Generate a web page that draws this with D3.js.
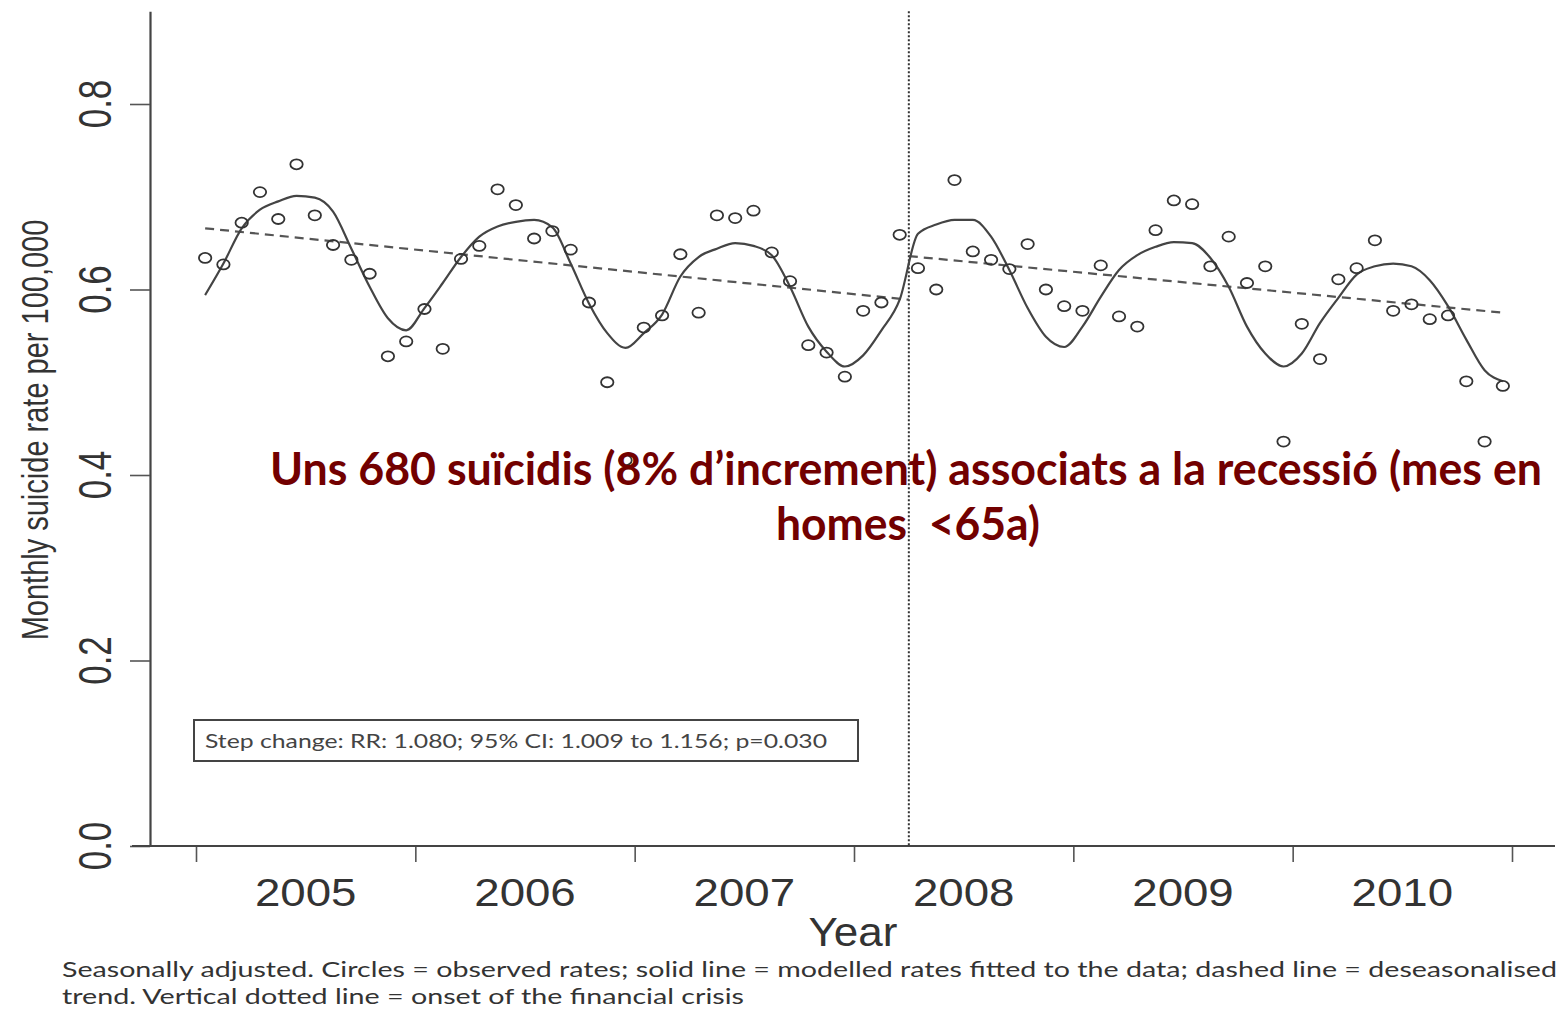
<!DOCTYPE html>
<html lang="en">
<head>
	<meta charset="utf-8">
	<title>Monthly suicide rate</title>
	<script src="https://d3js.org/d3.v7.min.js" charset="utf-8"></script>
	<style>
	body { margin: 0; background: #fff; }
	text { font-family: "Liberation Sans", Arial, sans-serif; }
	text.cal { font-family: Lato, "Open Sans", sans-serif; }
	</style>
</head>
<body>
	<script>
	// year tick labels (placed in the middle of each year)
	var yearLabels = ["2005", "2006", "2007", "2008", "2009", "2010"];
	var yTicks = [0.0, 0.2, 0.4, 0.6, 0.8];

	// observed monthly rates, Jan 2005 - Dec 2010
	var observed = [
		0.634, 0.627, 0.672, 0.705, 0.676, 0.735, 0.680, 0.648, 0.632, 0.617, 0.528, 0.544,
		0.579, 0.536, 0.633, 0.647, 0.708, 0.691, 0.655, 0.663, 0.643, 0.586, 0.500, 0.416,
		0.559, 0.572, 0.638, 0.575, 0.680, 0.677, 0.685, 0.640, 0.609, 0.540, 0.532, 0.506,
		0.577, 0.586, 0.659, 0.623, 0.600, 0.718, 0.641, 0.632, 0.622, 0.649, 0.600, 0.582,
		0.577, 0.626, 0.571, 0.560, 0.664, 0.696, 0.692, 0.625, 0.657, 0.607, 0.625, 0.436,
		0.563, 0.525, 0.611, 0.623, 0.653, 0.577, 0.584, 0.568, 0.572, 0.501, 0.436, 0.496
	];

	// modelled (fitted) rates
	var fitted = [
		0.594, 0.628, 0.666, 0.686, 0.695, 0.701, 0.699, 0.684, 0.644, 0.603, 0.569, 0.556,
		0.580, 0.607, 0.635, 0.657, 0.668, 0.673, 0.675, 0.667, 0.628, 0.585, 0.553, 0.537,
		0.553, 0.573, 0.614, 0.635, 0.644, 0.650, 0.647, 0.637, 0.603, 0.560, 0.533, 0.517,
		0.529, 0.556, 0.589, 0.660, 0.670, 0.675, 0.675, 0.657, 0.621, 0.580, 0.549, 0.538,
		0.560, 0.592, 0.621, 0.637, 0.646, 0.651, 0.650, 0.634, 0.603, 0.560, 0.531, 0.517,
		0.531, 0.564, 0.591, 0.616, 0.625, 0.628, 0.625, 0.610, 0.582, 0.546, 0.513, 0.501
	];

	// deseasonalised trend, [month index, rate] at the ends of each segment
	var trendBefore = [[0, 0.666], [38.5, 0.589]];
	var trendAfter = [[38.5, 0.636], [71, 0.575]];

	// onset of the financial crisis (month index)
	var crisisMonth = 38.5;

	var boxText = "Step change: RR: 1.080; 95% CI: 1.009 to 1.156; p=0.030";
	var noteLines = ["Uns 680 suïcidis (8% d\u2019increment) associats a la recessió (mes en", "homes  <65a)"];
	var footLines = [
		"Seasonally adjusted. Circles = observed rates; solid line = modelled rates fitted to the data; dashed line = deseasonalised",
		"trend. Vertical dotted line = onset of the financial crisis"
	];

	var w = 1567;
	var h = 1009;

	// month index -> fractional year (centre of the month)
	function monthToYear(m) { return 2005 + (m + 0.5) / 12; }

	var x = d3.scaleLinear().domain([2005, 2011]).range([196, 1512]);
	var y = d3.scaleLinear().domain([0, 0.9]).range([846, 11.25]);

	var svg = d3.select("body")
		.append("svg")
		.attr("width", w)
		.attr("height", h);

	svg.append("rect").attr("width", w).attr("height", h).attr("fill", "#fff");

	// y axis
	var yAxis = svg.append("g")
		.attr("transform", "translate(150,0)")
		.call(d3.axisLeft(y).tickValues(yTicks).tickSize(20).tickSizeOuter(0).tickFormat(""));
	yAxis.select(".domain").attr("stroke", "#444").attr("stroke-width", 2.2);
	yAxis.selectAll(".tick line").attr("stroke", "#555").attr("stroke-width", 1.6);

	yAxis.selectAll(".ylab")
		.data(yTicks)
		.enter()
		.append("text")
		.attr("class", "ylab")
		.attr("transform", function(d) { return "translate(-39," + y(d) + ") scale(1.3,1) rotate(-90)"; })
		.attr("text-anchor", "middle")
		.attr("font-size", 35)
		.attr("fill", "#333")
		.text(function(d) { return d.toFixed(1); });

	// x axis
	var xAxis = svg.append("g")
		.attr("transform", "translate(0,846)")
		.call(d3.axisBottom(x).ticks(6).tickSize(16).tickSizeOuter(0).tickFormat(""));
	xAxis.select(".domain").remove();
	xAxis.selectAll(".tick line").attr("stroke", "#555").attr("stroke-width", 1.6);
	xAxis.append("line")
		.attr("x1", 132)
		.attr("x2", 1555)
		.attr("stroke", "#444")
		.attr("stroke-width", 2.2);

	xAxis.selectAll(".xlab")
		.data(yearLabels)
		.enter()
		.append("text")
		.attr("class", "xlab")
		.attr("transform", function(d) { return "translate(" + x(+d + 0.5) + ",60) scale(1.17,1)"; })
		.attr("text-anchor", "middle")
		.attr("font-size", 39)
		.attr("fill", "#333")
		.text(function(d) { return d; });

	svg.append("text")
		.attr("transform", "translate(853,946) scale(1.1,1)")
		.attr("text-anchor", "middle")
		.attr("font-size", 40)
		.attr("fill", "#333")
		.text("Year");

	svg.append("text")
		.attr("transform", "translate(48,430) scale(1.3,1) rotate(-90)")
		.attr("text-anchor", "middle")
		.attr("font-size", 29)
		.attr("fill", "#333")
		.text("Monthly suicide rate per 100,000");

	// crisis line
	svg.append("line")
		.attr("x1", x(monthToYear(crisisMonth)))
		.attr("x2", x(monthToYear(crisisMonth)))
		.attr("y1", y(0.9))
		.attr("y2", y(0))
		.attr("stroke", "#333")
		.attr("stroke-width", 2)
		.attr("stroke-dasharray", "2,2");

	// dashed trend
	var trendLine = d3.line()
		.x(function(d) { return x(monthToYear(d[0])); })
		.y(function(d) { return y(d[1]); });

	[trendBefore, trendAfter].forEach(function(seg) {
		svg.append("path")
			.attr("d", trendLine(seg))
			.attr("fill", "none")
			.attr("stroke", "#555")
			.attr("stroke-width", 2.2)
			.attr("stroke-dasharray", "9,6");
	});

	// fitted curve
	var fitLine = d3.line()
		.x(function(d, i) { return x(monthToYear(i)); })
		.y(function(d) { return y(d); })
		.curve(d3.curveMonotoneX);

	svg.append("path")
		.attr("d", fitLine(fitted))
		.attr("fill", "none")
		.attr("stroke", "#444")
		.attr("stroke-width", 2.2);

	// observed circles
	svg.selectAll(".obs")
		.data(observed)
		.enter()
		.append("ellipse")
		.attr("class", "obs")
		.attr("cx", function(d, i) { return x(monthToYear(i)); })
		.attr("cy", function(d) { return y(d); })
		.attr("rx", 6.2)
		.attr("ry", 5)
		.attr("fill", "none")
		.attr("stroke", "#333")
		.attr("stroke-width", 1.8);

	// step change box
	svg.append("rect")
		.attr("x", 194)
		.attr("y", 720)
		.attr("width", 664)
		.attr("height", 41)
		.attr("fill", "#fff")
		.attr("stroke", "#444")
		.attr("stroke-width", 2);

	svg.append("text")
		.attr("class", "cal")
		.attr("x", 205)
		.attr("y", 748)
		.attr("font-size", 19)
		.attr("fill", "#444")
		.attr("textLength", 622)
		.attr("lengthAdjust", "spacingAndGlyphs")
		.text(boxText);

	// annotation in dark red
	svg.append("text")
		.attr("class", "cal")
		.attr("x", 270)
		.attr("y", 485)
		.attr("font-weight", "bold")
		.attr("font-size", 45)
		.attr("fill", "#720000")
		.attr("textLength", 1272)
		.attr("lengthAdjust", "spacingAndGlyphs")
		.text(noteLines[0]);

	svg.append("text")
		.attr("class", "cal")
		.attr("x", 776)
		.attr("y", 540)
		.attr("font-weight", "bold")
		.attr("font-size", 45)
		.attr("fill", "#720000")
		.attr("textLength", 264)
		.attr("lengthAdjust", "spacingAndGlyphs")
		.attr("xml:space", "preserve")
		.style("white-space", "pre")
		.text(noteLines[1]);

	// footnote
	svg.append("text")
		.attr("class", "cal")
		.attr("x", 62)
		.attr("y", 977)
		.attr("font-size", 21)
		.attr("fill", "#333")
		.attr("textLength", 1495)
		.attr("lengthAdjust", "spacingAndGlyphs")
		.text(footLines[0]);

	svg.append("text")
		.attr("class", "cal")
		.attr("x", 62)
		.attr("y", 1004)
		.attr("font-size", 21)
		.attr("fill", "#333")
		.attr("textLength", 682)
		.attr("lengthAdjust", "spacingAndGlyphs")
		.text(footLines[1]);
	</script>
</body>
</html>
